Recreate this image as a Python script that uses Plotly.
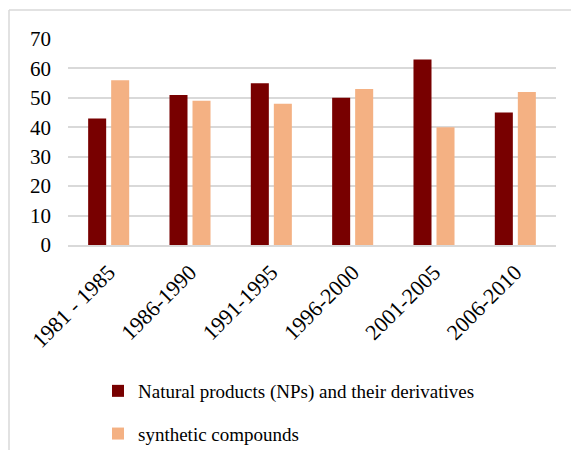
import plotly.graph_objects as go

categories = ["1981 - 1985", "1986-1990", "1991-1995", "1996-2000", "2001-2005", "2006-2010"]
natural_products = [43, 51, 55, 50, 63, 45]
synthetic = [56, 49, 48, 53, 40, 52]
series_names = ["Natural products (NPs) and their derivatives", "synthetic compounds"]
colors = ["#780000", "#F4B183"]

fig = go.Figure()
fig.add_trace(go.Bar(x=categories, y=natural_products, name=series_names[0],
                     marker=dict(color=colors[0], line=dict(width=0)), legendgroup="a"))
fig.add_trace(go.Bar(x=categories, y=synthetic, name=series_names[1],
                     marker=dict(color=colors[1], line=dict(width=0)), legendgroup="b"))

# page body has an 8px margin; work in figure coordinates (image - 8)
OFF = 8
W, H = 571, 442
L, T = 68 - OFF, 39 - OFF
R = W - (556 - OFF)
B = H - (245 - OFF)
pw, ph = W - L - R, H - T - B

def px_x(x):
    return (x - OFF - L) / pw

def px_y(y):
    return (H - B - (y - OFF)) / ph

FONT = "Liberation Serif"

fig.update_layout(
    width=W, height=H,
    margin=dict(l=L, r=R, t=T, b=B, autoexpand=False),
    paper_bgcolor="white", plot_bgcolor="white",
    font=dict(family=FONT, color="#000000"),
    barmode="group", bargap=0.434, bargroupgap=0.217,
    showlegend=True,
    legend=dict(x=px_x(98), y=px_y(372), xanchor="left", yanchor="top",
                orientation="v", traceorder="grouped", tracegroupgap=15,
                font=dict(family=FONT, size=19), bgcolor="rgba(0,0,0,0)"),
    xaxis=dict(tickangle=-45, tickfont=dict(family=FONT, size=22), showgrid=False,
               showline=True, linecolor="#d9d9d9", linewidth=1.5, ticks="",
               ticklabelshift=0, ticklabelstandoff=4),
    yaxis=dict(range=[0, 70], dtick=10, tickfont=dict(family=FONT, size=21),
               showgrid=True, gridcolor="#d9d9d9", gridwidth=1.5,
               zeroline=False, showline=False, ticks="", ticklabelstandoff=16),
    shapes=[
        dict(type="line", xref="paper", yref="paper",
             x0=px_x(9), x1=px_x(9), y0=px_y(10), y1=px_y(470),
             line=dict(color="#d9d9d9", width=1.5)),
        dict(type="line", xref="paper", yref="paper",
             x0=px_x(9), x1=px_x(600), y0=px_y(10), y1=px_y(10),
             line=dict(color="#d9d9d9", width=1.5)),
    ],
)

fig.write_html("out.html")
